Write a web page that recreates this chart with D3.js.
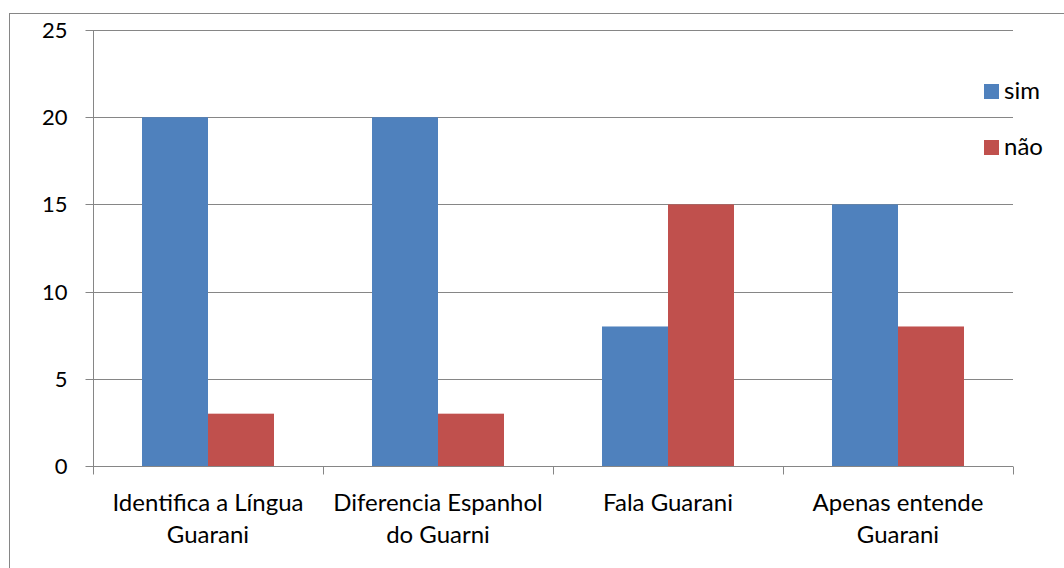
<!DOCTYPE html>
<html>
<head>
<meta charset="utf-8">
<script src="https://cdn.jsdelivr.net/npm/d3@7"></script>
<style>
  html, body { margin: 0; padding: 0; background: #fff; }
  svg { display: block; }
  text { font-family: Lato, "Open Sans", sans-serif; fill: #000; }
</style>
</head>
<body>
<svg id="chart" width="1064" height="568"></svg>
<script>
// Survey answers per question
const categories = [
  ["Identifica a Língua", "Guarani"],
  ["Diferencia Espanhol", "do Guarni"],
  ["Fala Guarani"],
  ["Apenas entende", "Guarani"]
];
const seriesNames = ["sim", "não"];
const simValues = [20, 20, 8, 15];
const naoValues = [3, 3, 15, 8];
const yTicks = [0, 5, 10, 15, 20, 25];
const colors = ["#4F81BD", "#C0504D"];

const svg = d3.select("#chart");
const margin = { left: 93, right: 51, top: 30, bottom: 102 };
const W = 1064, H = 568;
const plotW = W - margin.left - margin.right;
const plotH = H - margin.top - margin.bottom;
const axisColor = "#868686";

// outer chart frame (runs off the right and bottom edges)
svg.append("rect")
  .attr("x", 9.5).attr("y", 13.5)
  .attr("width", 1080).attr("height", 600)
  .attr("fill", "none").attr("stroke", axisColor).attr("stroke-width", 1);

const g = svg.append("g").attr("transform", `translate(${margin.left},${margin.top})`);

const x0 = d3.scaleBand().domain(d3.range(categories.length)).range([0, plotW]).paddingInner(0).paddingOuter(0);
const x1 = d3.scaleBand().domain(d3.range(seriesNames.length)).range([49, x0.bandwidth() - 49]);
const y = d3.scaleLinear().domain([0, 25]).range([plotH, 0]);

// horizontal gridlines
g.append("g").selectAll("line").data(yTicks.filter(t => t > 0)).join("line")
  .attr("x1", 0).attr("x2", plotW)
  .attr("y1", d => Math.round(y(d)) + 0.5).attr("y2", d => Math.round(y(d)) + 0.5)
  .attr("stroke", axisColor).attr("stroke-width", 1);

// bars
const rows = categories.map((c, i) => [simValues[i], naoValues[i]]);
const groups = g.append("g").selectAll("g").data(rows).join("g")
  .attr("transform", (d, i) => `translate(${x0(i)},0)`);
groups.selectAll("rect").data(d => d.map((v, s) => ({ v, s }))).join("rect")
  .attr("x", d => x1(d.s))
  .attr("width", x1.bandwidth())
  .attr("y", d => y(d.v))
  .attr("height", d => y(0) - y(d.v))
  .attr("fill", d => colors[d.s]);

// y axis
const yAxis = g.append("g").attr("transform", "translate(0.5,0)")
  .call(d3.axisLeft(y).tickValues(yTicks).tickSize(8).tickPadding(18));
yAxis.select(".domain").attr("stroke", axisColor).attr("d", `M0,${plotH}V0`);
yAxis.selectAll(".tick line").attr("stroke", axisColor);
yAxis.selectAll(".tick").attr("transform", d => `translate(0,${Math.round(y(d)) + 0.5})`);
yAxis.selectAll(".tick text").style("font-size", "22px").style("font-family", "Lato, sans-serif").attr("fill", "#000");

// x axis with ticks at category boundaries
const xAxisG = g.append("g").attr("transform", `translate(0,${Math.round(plotH) + 0.5})`);
xAxisG.append("line").attr("x1", 0).attr("x2", plotW).attr("stroke", axisColor);
xAxisG.selectAll("line.tk").data(d3.range(categories.length + 1)).join("line")
  .attr("class", "tk")
  .attr("x1", i => Math.round(i * x0.bandwidth()) + 0.5)
  .attr("x2", i => Math.round(i * x0.bandwidth()) + 0.5)
  .attr("y1", 0).attr("y2", 8)
  .attr("stroke", axisColor);

// category labels
const labels = xAxisG.selectAll("text.cat").data(categories).join("text")
  .attr("class", "cat")
  .attr("text-anchor", "middle")
  .style("font-size", "24px");
labels.each(function (lines, i) {
  const t = d3.select(this);
  lines.forEach((ln, k) => {
    t.append("tspan")
      .attr("x", x0(i) + x0.bandwidth() / 2)
      .attr("y", 44 + k * 32)
      .text(ln);
  });
});

// legend
const legend = svg.append("g").attr("transform", "translate(984,84)");
seriesNames.forEach((name, i) => {
  const row = legend.append("g").attr("transform", `translate(0,${i * 56})`);
  row.append("rect").attr("width", 15).attr("height", 15).attr("fill", colors[i]);
  row.append("text").attr("x", 20).attr("y", 15).style("font-size", "24px").text(name);
});
</script>
</body>
</html>
